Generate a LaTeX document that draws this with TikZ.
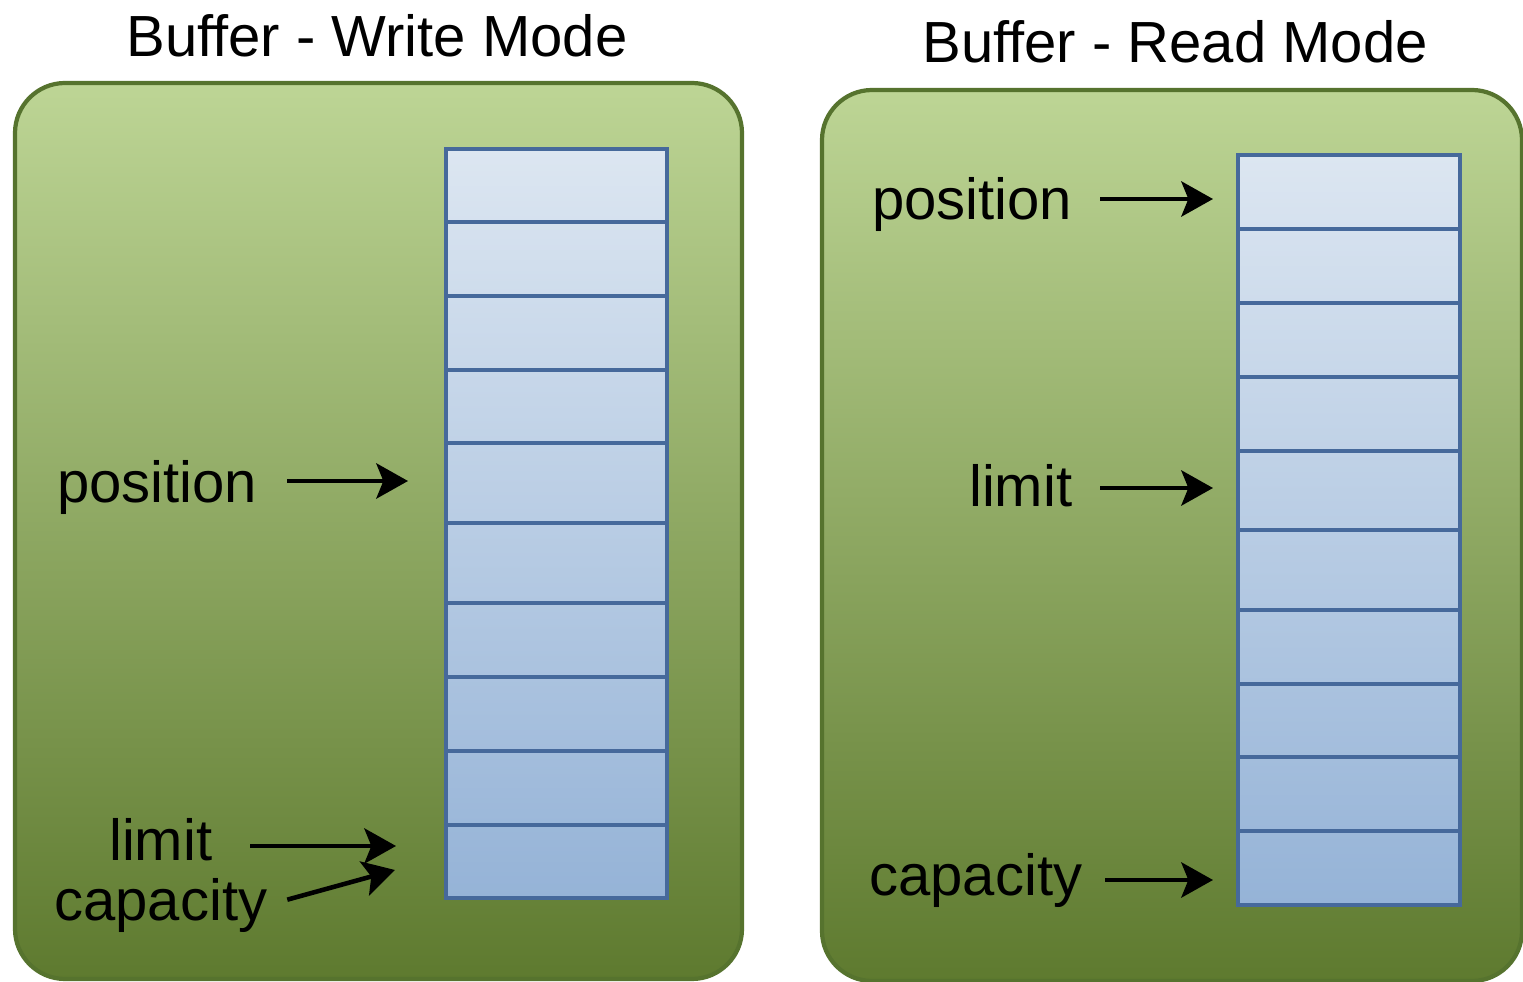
\documentclass[tikz,border=0pt]{standalone}
\usepackage{fontspec}
\setmainfont{Liberation Sans}
\usetikzlibrary{arrows.meta}
\definecolor{paneltop}{HTML}{BDD595}
\definecolor{panelmid}{HTML}{8EAD4B}
\definecolor{panelbot}{HTML}{5E7A2F}
\definecolor{panelline}{HTML}{56732E}
\definecolor{celltop}{HTML}{DCE6F1}
\definecolor{cellbot}{HTML}{95B3D7}
\definecolor{cellline}{HTML}{46699B}
\begin{document}
\begin{tikzpicture}
    [
    x=0.01cm,y=-0.01cm,
    panel/.style={top color=paneltop,middle color=panelmid,bottom color=panelbot,draw=panelline,line width=1.2pt,rounded corners=0.5cm},
    column/.style={top color=celltop,bottom color=cellbot},
    cell/.style={draw=cellline,line width=1pt,rectangle,inner sep=0pt,minimum width=2.21cm},
    word/.style={font=\fontsize{16.5}{20}\selectfont,inner sep=0pt},
    pointer/.style={-{Stealth[length=9pt,width=10pt,inset=2pt]},line width=1.3pt}
    ]
    \useasboundingbox (0,0) rectangle (1523,982);

    % write mode
    \shade [panel] (15,83) rectangle (742,979);
    \node (wtitle) at (377,57) [word,anchor=base] {Buffer - Write Mode};
    \shade [column] (446,149) rectangle (667,898);
    \foreach \a/\b [count=\i] in {149/222,222/296,296/370,370/443,443/523,523/603,603/677,677/751,751/825,825/898}
        \node (w\i) at (556.5,{(\a+\b)/2}) [cell,minimum height={(\b-\a)*0.01cm}] {};
    \node (wpos) at (258,502) [word,anchor=base east] {position};
    \node (wlim) at (213,860) [word,anchor=base east] {limit};
    \node (wcap) at (268,920) [word,anchor=base east] {capacity};
    \coordinate (wposTip) at (408,481);
    \coordinate (wlimTip) at (396,846);
    \coordinate (wcapTip) at (395,870);
    \draw [pointer,shorten <=0.29cm] (wposTip -| wpos.east) to (wposTip);
    \draw [pointer,shorten <=0.37cm] (wlimTip -| wlim.east) to (wlimTip);
    \draw [pointer,shorten <=0.2cm] (wcap.east) to (wcapTip);

    % read mode
    \shade [panel] (822,90) rectangle (1522,981);
    \node (rtitle) at (1175,63) [word,anchor=base] {Buffer - Read Mode};
    \shade [column] (1238,155) rectangle (1460,905);
    \foreach \a/\b [count=\i] in {155/229,229/303,303/377,377/451,451/530,530/610,610/684,684/757,757/831,831/905}
        \node (r\i) at (1349,{(\a+\b)/2}) [cell,minimum width=2.22cm,minimum height={(\b-\a)*0.01cm}] {};
    \node (rpos) at (1073,220) [word,anchor=base east] {position};
    \node (rlim) at (1073,507) [word,anchor=base east] {limit};
    \node (rcap) at (1083,895) [word,anchor=base east] {capacity};
    \coordinate (rposTip) at (1213,199);
    \coordinate (rlimTip) at (1213,488);
    \coordinate (rcapTip) at (1213,880);
    \draw [pointer,shorten <=0.27cm] (rposTip -| rpos.east) to (rposTip);
    \draw [pointer,shorten <=0.27cm] (rlimTip -| rlim.east) to (rlimTip);
    \draw [pointer,shorten <=0.22cm] (rcapTip -| rcap.east) to (rcapTip);
\end{tikzpicture}
\end{document}
